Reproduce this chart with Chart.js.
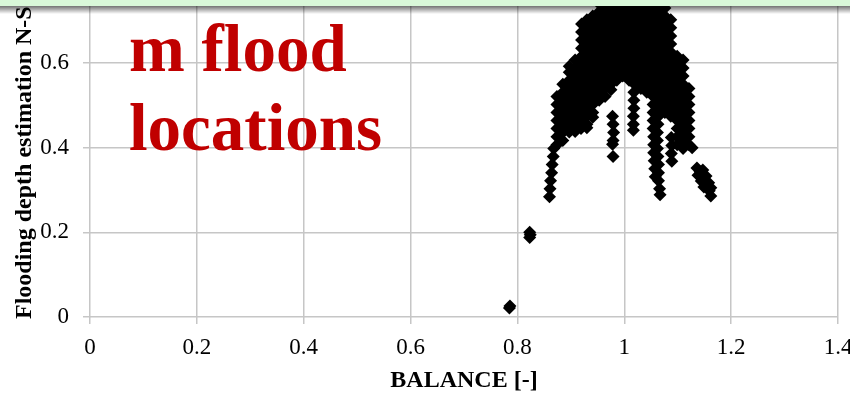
<!DOCTYPE html>
<html>
<head>
<meta charset="utf-8">
<script src="https://cdn.jsdelivr.net/npm/chart.js@4"></script>
<style>
  html, body { margin: 0; padding: 0; width: 850px; height: 395px; overflow: hidden; background: #fff; }
  #wrap   { position: absolute; left: 0; top: -60px; width: 900px; height: 455px; }
  #topbar { position: absolute; left: 0; top: 0; width: 850px; height: 6px; background: #d9f8d9; z-index: 3; }
  #shade  { position: absolute; left: 0; top: 6px; width: 850px; height: 8px; z-index: 3;
            background: linear-gradient(rgba(0,0,0,0.55), rgba(0,0,0,0)); }
  #note   { position: absolute; left: 129px; top: 9px; z-index: 2; color: #c00000;
            font: bold 67px/79px "Liberation Serif", serif; white-space: nowrap; }
</style>
</head>
<body>
<div id="wrap"><canvas id="chart"></canvas></div>
<div id="topbar"></div>
<div id="shade"></div>
<div id="note">m flood<br>locations</div>

<script>
// ── DATA: [BALANCE, N-S] ──
const xTicks = [0, 0.2, 0.4, 0.6, 0.8, 1, 1.2, 1.4]
const yTicks = [0, 0.2, 0.4, 0.6, 0.8]

const lowOutliers = [
  [0.786,0.026],[0.785,0.021],
  [0.823,0.200],[0.824,0.194],[0.823,0.188],
]

const leftArm = [
  [0.868,0.398],[0.867,0.379],[0.865,0.360],[0.864,0.341],[0.862,0.322],[0.861,0.303],[0.860,0.284],
  [0.874,0.521],[0.874,0.502],[0.874,0.483],[0.874,0.464],[0.874,0.445],[0.874,0.426],[0.874,0.407],
  [0.885,0.550],[0.885,0.531],[0.885,0.512],[0.885,0.493],[0.885,0.474],[0.885,0.455],[0.885,0.436],[0.885,0.417],
  [0.897,0.592],[0.897,0.578],[0.897,0.559],[0.897,0.540],[0.897,0.521],[0.897,0.502],[0.897,0.483],[0.897,0.464],[0.897,0.445],[0.897,0.437],
  [0.908,0.607],[0.908,0.588],[0.908,0.569],[0.908,0.550],[0.908,0.531],[0.908,0.512],[0.908,0.493],[0.908,0.474],[0.908,0.455],[0.908,0.438],
]

const leftCore = [
  [0.920,0.692],[0.920,0.673],[0.920,0.654],[0.920,0.635],[0.920,0.616],[0.919,0.597],[0.919,0.578],[0.919,0.559],[0.919,0.540],[0.919,0.521],[0.919,0.502],[0.919,0.483],[0.919,0.464],[0.919,0.445],
  [0.930,0.702],[0.930,0.683],[0.930,0.664],[0.930,0.645],[0.930,0.626],[0.930,0.607],[0.930,0.588],[0.930,0.569],[0.930,0.550],[0.930,0.531],[0.930,0.512],[0.930,0.493],[0.930,0.474],[0.930,0.455],[0.930,0.447],
  [0.941,0.711],[0.941,0.692],[0.941,0.673],[0.941,0.654],[0.941,0.635],[0.941,0.616],[0.941,0.597],[0.941,0.578],[0.941,0.559],[0.941,0.540],[0.941,0.521],[0.941,0.502],[0.941,0.483],[0.941,0.472],
  [0.953,0.740],[0.953,0.721],[0.953,0.702],[0.953,0.683],[0.953,0.664],[0.953,0.645],[0.953,0.626],[0.953,0.607],[0.953,0.588],[0.953,0.569],[0.953,0.550],[0.953,0.531],[0.953,0.512],
  [0.964,0.730],[0.964,0.711],[0.964,0.692],[0.964,0.673],[0.964,0.654],[0.964,0.635],[0.964,0.616],[0.964,0.597],[0.964,0.578],[0.964,0.559],[0.964,0.540],[0.964,0.521],
  [0.975,0.740],[0.975,0.721],[0.975,0.702],[0.975,0.683],[0.975,0.664],[0.975,0.645],[0.975,0.626],[0.975,0.607],[0.975,0.588],[0.975,0.569],[0.975,0.550],[0.975,0.537],
  [0.978,0.474],[0.979,0.455],[0.980,0.436],[0.979,0.417],[0.978,0.408],[0.979,0.379],
]

const midCore = [
  [0.986,0.730],[0.986,0.711],[0.986,0.692],[0.986,0.673],[0.986,0.654],[0.986,0.635],[0.986,0.616],[0.986,0.597],[0.986,0.578],[0.986,0.559],
  [0.997,0.740],[0.997,0.721],[0.997,0.702],[0.997,0.683],[0.997,0.664],[0.997,0.645],[0.997,0.626],[0.997,0.607],[0.997,0.588],[0.997,0.569],
  [1.009,0.730],[1.009,0.711],[1.009,0.692],[1.009,0.673],[1.009,0.654],[1.009,0.635],[1.009,0.616],[1.009,0.597],[1.009,0.578],[1.009,0.559],
  [1.019,0.740],[1.019,0.721],[1.019,0.702],[1.019,0.683],[1.019,0.664],[1.019,0.645],[1.019,0.626],[1.019,0.607],[1.019,0.588],
  [1.019,0.569],[1.019,0.550],[1.018,0.531],[1.018,0.512],[1.018,0.493],[1.017,0.474],[1.017,0.455],[1.017,0.441],
  [1.031,0.730],[1.031,0.711],[1.031,0.692],[1.031,0.673],[1.031,0.654],[1.031,0.635],[1.031,0.616],[1.031,0.597],[1.031,0.578],[1.031,0.559],[1.031,0.540],
  [1.042,0.740],[1.042,0.721],[1.042,0.702],[1.042,0.683],[1.042,0.664],[1.042,0.645],[1.042,0.626],[1.042,0.607],[1.042,0.588],[1.042,0.569],[1.042,0.550],[1.042,0.531],
]

const rightCore = [
  [1.054,0.730],[1.054,0.711],[1.054,0.692],[1.054,0.673],[1.054,0.654],[1.054,0.635],[1.054,0.616],[1.054,0.597],[1.054,0.578],[1.054,0.559],[1.054,0.540],
  [1.054,0.521],[1.054,0.502],[1.054,0.483],[1.054,0.464],[1.054,0.445],[1.055,0.426],[1.055,0.407],[1.055,0.388],[1.056,0.369],[1.057,0.350],[1.058,0.331],
  [1.065,0.740],[1.065,0.721],[1.065,0.702],[1.065,0.683],[1.065,0.664],[1.065,0.645],[1.065,0.626],[1.065,0.607],[1.065,0.588],[1.065,0.569],[1.065,0.550],[1.065,0.531],
  [1.065,0.512],[1.065,0.493],[1.064,0.474],[1.063,0.455],[1.062,0.436],[1.062,0.417],[1.062,0.398],[1.063,0.379],[1.064,0.360],[1.064,0.341],[1.064,0.322],[1.066,0.303],[1.067,0.289],
  [1.076,0.730],[1.076,0.711],[1.076,0.692],[1.076,0.673],[1.076,0.654],[1.076,0.635],[1.076,0.616],[1.076,0.597],[1.076,0.578],[1.076,0.559],[1.076,0.540],[1.076,0.521],[1.076,0.502],[1.076,0.483],
  [1.087,0.702],[1.087,0.683],[1.087,0.664],[1.087,0.645],[1.087,0.626],[1.087,0.607],[1.087,0.588],[1.087,0.569],[1.087,0.550],[1.087,0.531],[1.087,0.512],[1.087,0.493],[1.087,0.474],
  [1.088,0.424],[1.089,0.405],[1.088,0.386],[1.089,0.368],
]

const rightArm = [
  [1.099,0.616],[1.099,0.597],[1.099,0.578],[1.099,0.559],[1.099,0.540],[1.099,0.521],[1.099,0.502],[1.099,0.483],[1.099,0.464],[1.099,0.445],[1.099,0.426],[1.099,0.407],
  [1.110,0.607],[1.110,0.588],[1.110,0.569],[1.110,0.550],[1.110,0.531],[1.110,0.512],[1.110,0.493],[1.110,0.474],[1.110,0.455],[1.110,0.436],[1.110,0.417],[1.110,0.398],
  [1.121,0.540],[1.121,0.521],[1.121,0.502],[1.121,0.483],[1.121,0.464],[1.121,0.445],[1.121,0.426],[1.121,0.407],[1.127,0.400],
]

const tail = [
  [1.136,0.352],[1.142,0.343],[1.145,0.331],[1.151,0.319],[1.155,0.307],[1.159,0.298],[1.162,0.286],
  [1.147,0.347],[1.153,0.333],[1.158,0.317],[1.162,0.305],[1.138,0.335],[1.144,0.321],[1.149,0.307],
]

const points = [...lowOutliers, ...leftArm, ...leftCore, ...midCore, ...rightCore, ...rightArm, ...tail]
  .map(([x, y]) => ({ x, y }))

const serif = '"Liberation Serif", "Times New Roman", serif'
const gridCol = '#c6c6c6'
const fmt = v => String(+v.toFixed(1))

new Chart(document.getElementById('chart'), {
  type: 'scatter',
  data: {
    datasets: [{
      data: points,
      pointStyle: 'rectRot', pointRadius: 6.5, pointHoverRadius: 6.5,
      backgroundColor: '#000', borderColor: '#000', borderWidth: 0,
    }]
  },
  options: {
    responsive: true, maintainAspectRatio: false, animation: false,
    events: [],
    layout: { padding: { top: 38.3, right: 62, left: 0, bottom: 0 } },
    plugins: { legend: { display: false }, tooltip: { enabled: false } },
    scales: {
      x: {
        type: 'linear', min: xTicks[0], max: xTicks[xTicks.length - 1],
        afterBuildTicks: s => { s.ticks = xTicks.map(v => ({ value: v })) },
        afterFit: s => { s.height = 78 },
        ticks: { color: '#000', font: { family: serif, size: 23 }, padding: 10, maxRotation: 0, callback: fmt },
        grid: { color: gridCol, lineWidth: 1.5, tickLength: 7 },
        border: { display: false },
        title: { display: true, text: 'BALANCE [-]', color: '#000',
                 font: { family: serif, size: 24, weight: 'bold' }, padding: { top: 0, bottom: 0 } },
      },
      y: {
        type: 'linear', min: yTicks[0], max: yTicks[yTicks.length - 1],
        afterBuildTicks: s => { s.ticks = yTicks.map(v => ({ value: v })) },
        afterFit: s => { s.width = 90 },
        ticks: { color: '#000', font: { family: serif, size: 23 }, padding: 14, callback: fmt },
        grid: { color: gridCol, lineWidth: 1.5, tickLength: 7 },
        border: { display: false },
        title: { display: true, text: 'Flooding depth estimation N-S [-]', color: '#000',
                 font: { family: serif, size: 24, weight: 'bold' }, padding: { top: 10, bottom: 0 } },
      },
    },
  },
})
</script>
</body>
</html>
